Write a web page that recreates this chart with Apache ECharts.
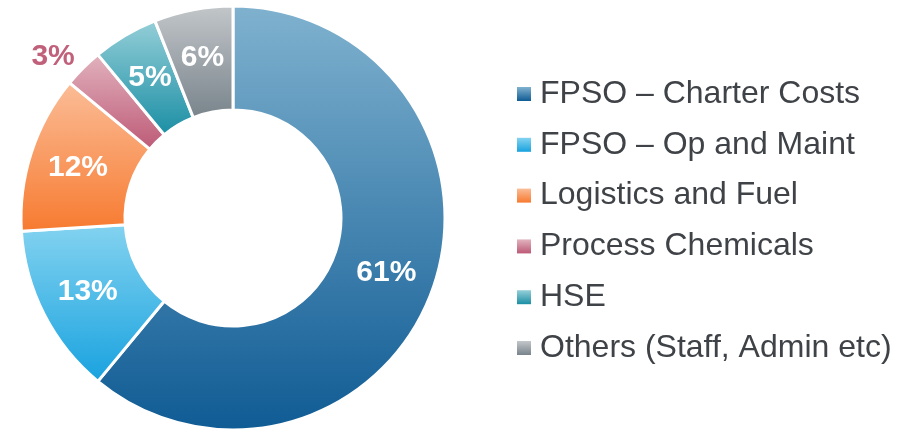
<!DOCTYPE html>
<html>
<head>
    <meta charset="utf-8">
    <title>Cost Split</title>
    <script src="https://cdn.jsdelivr.net/npm/echarts@6/dist/echarts.min.js"></script>
    <style>
        html, body { margin: 0; padding: 0; background: #fff; }
        #chart { width: 907px; height: 430px; }
    </style>
</head>
<body>
<div id="chart"></div>
<script>

// data
var categories = [
    'FPSO \u2013 Charter Costs',
    'FPSO \u2013 Op and Maint',
    'Logistics and Fuel',
    'Process Chemicals',
    'HSE',
    'Others (Staff, Admin etc)'
];
var shares = [61, 13, 12, 3, 5, 6];

// slice colours, top -> bottom of each slice
var topColors = ['#80b2cf', '#84d3f0', '#fbbd98', '#e2b3be', '#95cfd8', '#c3c7ca'];
var bottomColors = ['#0f5b94', '#18a2df', '#f77a2f', '#bd5976', '#1a8ea4', '#78838b'];

var pieData = [];
for (var i = 0; i < categories.length; i++) {
    var item = {
        name: categories[i],
        value: shares[i],
        itemStyle: {
            color: new echarts.graphic.LinearGradient(0, 0, 0, 1, [
                { offset: 0, color: topColors[i] },
                { offset: 1, color: bottomColors[i] }
            ])
        }
    };
    // the small slice has its label outside, in its own colour
    if (shares[i] < 4) {
        item.label = {
            position: 'outside',
            color: '#c0607a',
            distanceToLabelLine: -3
        };
        item.labelLine = { show: false, length: 16, length2: 0 };
    }
    pieData.push(item);
}

var myChart = echarts.init(document.getElementById('chart'));
var option = {
    animation: false,
    legend: {
        orient: 'vertical',
        left: 512,
        top: 73,
        itemWidth: 14,
        itemHeight: 14,
        itemGap: 18.8,
        icon: 'rect',
        selectedMode: false,
        itemStyle: { borderWidth: 0, borderColor: 'transparent' },
        textStyle: {
            fontFamily: '"Liberation Sans", Arial, sans-serif',
            fontSize: 32,
            lineHeight: 32,
            color: '#3f4347',
            padding: [0, 0, 0, 4]
        },
        data: categories
    },
    series: [
        {
            type: 'pie',
            center: [233, 218],
            radius: [108, 212],
            startAngle: 90,
            clockwise: true,
            avoidLabelOverlap: false,
            emphasis: { disabled: true },
            itemStyle: {
                borderColor: '#fff',
                borderWidth: 3
            },
            label: {
                show: true,
                position: 'inside',
                formatter: '{c}%',
                color: '#fff',
                fontFamily: '"Liberation Sans", Arial, sans-serif',
                fontWeight: 'bold',
                fontSize: 30
            },
            labelLine: { show: false },
            data: pieData
        }
    ]
};
myChart.setOption(option);

</script>
</body>
</html>
